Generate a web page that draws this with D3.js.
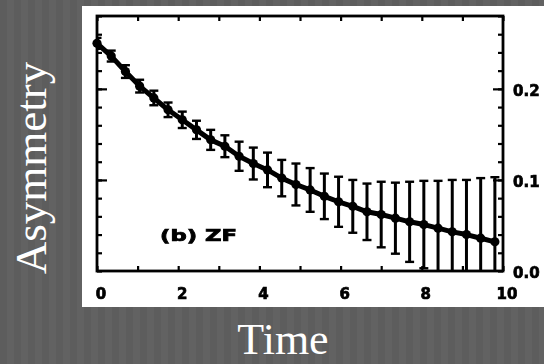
<!DOCTYPE html>
<html>
<head>
<meta charset="utf-8">
<script src="https://cdn.jsdelivr.net/npm/d3@7"></script>
<style>
  html, body { margin: 0; padding: 0; background: #5f5f5f; }
  svg { display: block; }
</style>
</head>
<body>
<svg id="chart" width="544" height="364"></svg>
<script>
// data
let times = [0, 0.35, 0.7, 1.05, 1.4, 1.75, 2.1, 2.45, 2.8, 3.15, 3.5, 3.85, 4.2, 4.55, 4.9,
  5.25, 5.6, 5.95, 6.3, 6.65, 7.0, 7.35, 7.7, 8.05, 8.4, 8.75, 9.1, 9.45, 9.8]
let asym = [0.250, 0.236, 0.219, 0.203, 0.190, 0.177, 0.166, 0.155, 0.144, 0.137, 0.126, 0.118,
  0.111, 0.102, 0.095, 0.089, 0.082, 0.076, 0.071, 0.065, 0.062, 0.058, 0.054, 0.051, 0.047,
  0.043, 0.040, 0.036, 0.032]
let errs = [0.006, 0.006, 0.007, 0.007, 0.008, 0.008, 0.009, 0.010, 0.011, 0.012, 0.016, 0.0175,
  0.019, 0.020, 0.023, 0.024, 0.025, 0.0275, 0.029, 0.031, 0.036, 0.039, 0.044, 0.048, 0.052,
  0.057, 0.060, 0.066, 0.071]
let xTickLabels = [0, 2, 4, 6, 8, 10]
let yTickLabels = ["0.0", "0.1", "0.2"]
let yTickValues = [0, 0.1, 0.2]
let panelLabel = "(b) ZF"
let xTitle = "Time"
let yTitle = "Asymmetry"

let data = times.map((t, i) => ({ t: t, v: asym[i], e: errs[i] }))

const svg = d3.select("#chart")
const width = 544, height = 364

let x = d3.scaleLinear().domain([0, 10]).range([97, 503])
let y = d3.scaleLinear().domain([0, 0.28]).range([271, 16])

// faintly striped slide background
let defs = svg.append("defs")
let pat = defs.append("pattern")
    .attr("id", "stripes").attr("patternUnits", "userSpaceOnUse")
    .attr("width", 14).attr("height", 10)
pat.append("rect").attr("width", 14).attr("height", 10).attr("fill", "#5d5d5d")
pat.append("rect").attr("x", 7).attr("width", 7).attr("height", 10).attr("fill", "#626262")
svg.append("rect").attr("width", width).attr("height", height).attr("fill", "url(#stripes)")

defs.append("clipPath").attr("id", "frameclip")
    .append("rect")
    .attr("x", x.range()[0]).attr("y", y.range()[1])
    .attr("width", x.range()[1] - x.range()[0])
    .attr("height", y.range()[0] - y.range()[1])

defs.append("filter").attr("id", "soft")
    .append("feGaussianBlur").attr("stdDeviation", 0.45)

// white picture panel
svg.append("rect")
    .attr("x", 82).attr("y", 6).attr("width", width - 82).attr("height", 301)
    .attr("fill", "#ffffff")

let plot = svg.append("g").attr("filter", "url(#soft)")

// error bars
let bars = plot.append("g").attr("clip-path", "url(#frameclip)")
    .selectAll("g").data(data).join("g")
bars.append("line")
    .attr("x1", d => x(d.t)).attr("x2", d => x(d.t))
    .attr("y1", d => y(d.v + d.e)).attr("y2", d => y(d.v - d.e))
    .attr("stroke", "#000").attr("stroke-width", 3)
bars.append("line")
    .attr("x1", d => x(d.t) - 4.5).attr("x2", d => x(d.t) + 4.5)
    .attr("y1", d => y(d.v + d.e)).attr("y2", d => y(d.v + d.e))
    .attr("stroke", "#000").attr("stroke-width", 2.4)
bars.append("line")
    .attr("x1", d => x(d.t) - 4.5).attr("x2", d => x(d.t) + 4.5)
    .attr("y1", d => y(d.v - d.e)).attr("y2", d => y(d.v - d.e))
    .attr("stroke", "#000").attr("stroke-width", 2.4)

// the data curve and points
let line = d3.line().x(d => x(d.t)).y(d => y(d.v))
plot.append("path")
    .datum(data)
    .attr("fill", "none")
    .attr("stroke", "#000")
    .attr("stroke-width", 5)
    .attr("stroke-linejoin", "round")
    .attr("d", line)
plot.append("g").selectAll("circle").data(data).join("circle")
    .attr("cx", d => x(d.t)).attr("cy", d => y(d.v))
    .attr("r", 4.6).attr("fill", "#000")

// frame
plot.append("rect")
    .attr("x", x.range()[0]).attr("y", y.range()[1])
    .attr("width", x.range()[1] - x.range()[0])
    .attr("height", y.range()[0] - y.range()[1])
    .attr("fill", "none").attr("stroke", "#000").attr("stroke-width", 2.8)

// inward ticks
let styleAxis = g => {
    g.select(".domain").remove()
    g.selectAll(".tick line").attr("stroke", "#000").attr("stroke-width", 2.2)
    g.selectAll(".tick text").remove()
}
let xMinor = d3.range(0, 11)
plot.append("g").attr("transform", `translate(0,${y.range()[0]})`)
    .call(d3.axisBottom(x).tickValues(xMinor).tickSize(-5)).call(styleAxis)
plot.append("g").attr("transform", `translate(0,${y.range()[1]})`)
    .call(d3.axisTop(x).tickValues(xMinor).tickSize(-5)).call(styleAxis)

let yMinor = d3.range(0, 0.2801, 0.02)
plot.append("g").attr("transform", `translate(${x.range()[0]},0)`)
    .call(d3.axisLeft(y).tickValues(yMinor).tickSize(-5)).call(styleAxis)
plot.append("g").attr("transform", `translate(${x.range()[1]},0)`)
    .call(d3.axisRight(y).tickValues(yMinor).tickSize(-5)).call(styleAxis)
plot.append("g").attr("transform", `translate(${x.range()[0]},0)`)
    .call(d3.axisLeft(y).tickValues(yTickValues.slice(1)).tickSize(-10)).call(styleAxis)
plot.append("g").attr("transform", `translate(${x.range()[1]},0)`)
    .call(d3.axisRight(y).tickValues(yTickValues.slice(1)).tickSize(-10)).call(styleAxis)

// tick labels
plot.append("g").selectAll("text").data(xTickLabels).join("text")
    .attr("x", d => x(d) + 4).attr("y", 299)
    .attr("text-anchor", "middle")
    .attr("font-family", "DejaVu Sans").attr("font-weight", "bold").attr("font-size", 15)
    .attr("stroke", "#000").attr("stroke-width", 0.7)
    .text(d => d)
plot.append("g").selectAll("text").data(yTickLabels).join("text")
    .attr("x", x.range()[1] + 10).attr("y", (d, i) => y(yTickValues[i]) + 7)
    .attr("font-family", "DejaVu Sans").attr("font-weight", "bold").attr("font-size", 15)
    .attr("stroke", "#000").attr("stroke-width", 0.7)
    .text(d => d)

plot.append("text")
    .attr("x", 160).attr("y", 241)
    .attr("textLength", 77).attr("lengthAdjust", "spacingAndGlyphs")
    .attr("font-family", "DejaVu Sans").attr("font-weight", "bold").attr("font-size", 15)
    .attr("stroke", "#000").attr("stroke-width", 0.7)
    .text(panelLabel)

// slide titles
svg.append("text")
    .attr("x", 283).attr("y", 354)
    .attr("text-anchor", "middle")
    .attr("font-family", "Liberation Serif").attr("font-size", 44)
    .attr("fill", "#ffffff")
    .text(xTitle)
svg.append("text")
    .attr("transform", "translate(46,168) rotate(-90)")
    .attr("text-anchor", "middle")
    .attr("font-family", "Liberation Serif").attr("font-size", 45)
    .attr("fill", "#ffffff")
    .text(yTitle)
</script>
</body>
</html>
